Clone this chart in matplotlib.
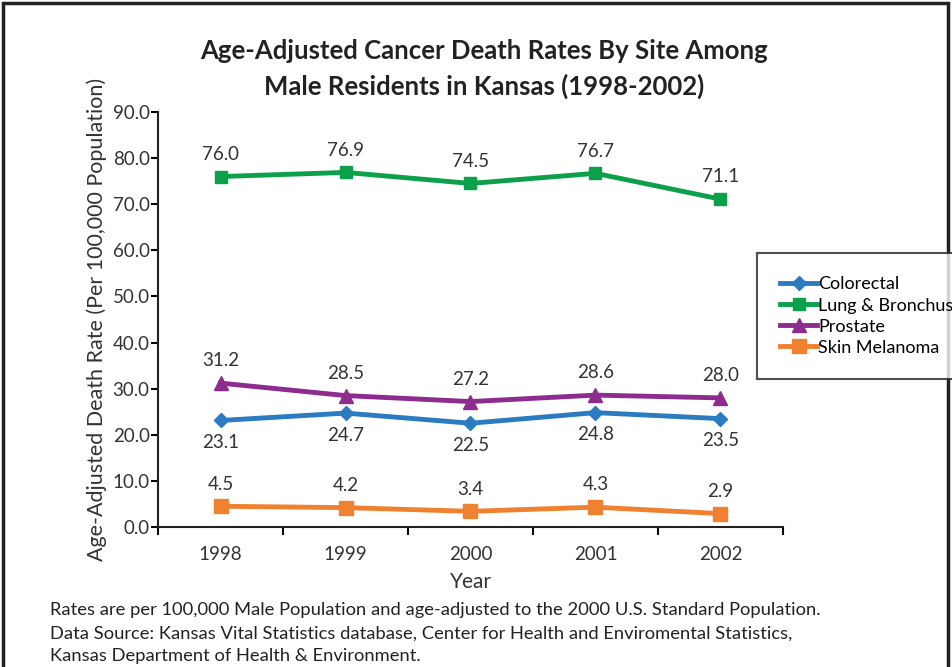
import matplotlib.pyplot as plt
from matplotlib.patches import Rectangle

years = ["1998", "1999", "2000", "2001", "2002"]
colorectal = [23.1, 24.7, 22.5, 24.8, 23.5]
lung = [76.0, 76.9, 74.5, 76.7, 71.1]
prostate = [31.2, 28.5, 27.2, 28.6, 28.0]
melanoma = [4.5, 4.2, 3.4, 4.3, 2.9]

plt.rcParams['font.family'] = ['Lato', 'DejaVu Sans']

fig = plt.figure(figsize=(9.53, 6.67), dpi=100)
ax = fig.add_axes([0.1658, 0.2099, 0.6558, 0.6222])

x = list(range(len(years)))
series = [
    ("Colorectal", colorectal, "#2a7bc0", "D", 7, -1),
    ("Lung & Bronchus", lung, "#0da04b", "s", 9, 1),
    ("Prostate", prostate, "#8e2b8e", "^", 10, 1),
    ("Skin Melanoma", melanoma, "#f08131", "s", 10, 1),
]
for name, vals, col, mk, ms, side in series:
    ax.plot(x, vals, color=col, lw=3.5, marker=mk, markersize=ms, label=name)
    for xi, v in zip(x, vals):
        ax.annotate(f"{v:.1f}", (xi, v), xytext=(0, 16 * side), textcoords="offset points",
                    ha="center", va="center", fontsize=13.5, color="#333333")

ax.set_xlim(-0.5, 4.5)
ax.set_ylim(0, 90)
ax.set_yticks([i * 10 for i in range(10)])
ax.set_yticklabels([f"{i * 10:.1f}" for i in range(10)], fontsize=13.5, color="#333333")
ax.set_xticks([i - 0.5 for i in range(6)])
ax.set_xticklabels([])
ax.set_xticks(x, minor=True)
ax.set_xticklabels(years, minor=True, fontsize=13.5, color="#333333")
ax.tick_params(axis="x", which="minor", length=0, pad=14)
ax.tick_params(axis="x", which="major", length=6, width=1.5, direction="out")
ax.tick_params(axis="y", length=5, width=1.5, direction="out", pad=1)
for s in ["top", "right"]:
    ax.spines[s].set_visible(False)
for s in ["left", "bottom"]:
    ax.spines[s].set_linewidth(1.5)
    ax.spines[s].set_color("#222222")

ax.set_xlabel("Year", fontsize=15, color="#333333", labelpad=6)
ax.set_ylabel("Age-Adjusted Death Rate (Per 100,000 Population)", fontsize=15.5,
              color="#333333", labelpad=4)

fig.text(0.508, 0.897, "Age-Adjusted Cancer Death Rates By Site Among\nMale Residents in Kansas (1998-2002)",
         ha="center", va="center", fontsize=18.5, fontweight="bold", color="#222222",
         linespacing=1.5)

leg = fig.legend(loc="upper left", bbox_to_anchor=(757 / 953, 1 - 253 / 667),
                 fontsize=13, frameon=True, fancybox=False, handlelength=2.0,
                 handletextpad=0.1, labelspacing=0.28, borderpad=1.3, borderaxespad=0)
leg.get_frame().set_edgecolor("#222222")
leg.get_frame().set_linewidth(1.5)

notes = ("Rates are per 100,000 Male Population and age-adjusted to the 2000 U.S. Standard Population.\n"
         "Data Source: Kansas Vital Statistics database, Center for Health and Enviromental Statistics,\n"
         "Kansas Department of Health & Environment.")
fig.text(50 / 953, 1 - 602 / 667, notes, ha="left", va="top", fontsize=13.2,
         color="#222222", linespacing=1.55)

fig.add_artist(Rectangle((3 / 953, -0.1), 945 / 953, 1.1 - 3 / 667, transform=fig.transFigure,
                         fill=False, edgecolor="#222222", lw=2.5))

fig.savefig("out.png", dpi=100)
